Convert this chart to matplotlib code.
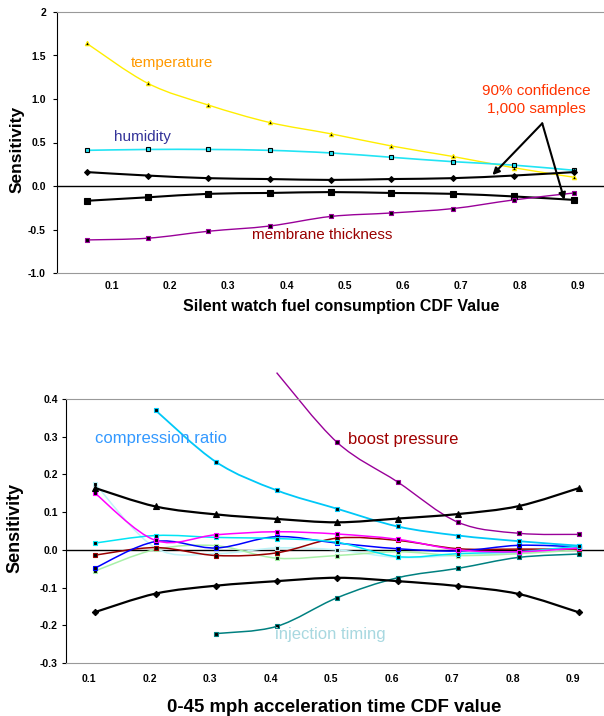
import numpy as np
import matplotlib
matplotlib.use('Agg')
import matplotlib.pyplot as plt
from matplotlib.path import Path
from matplotlib.patches import PathPatch

plt.rcParams['font.family'] = ['Liberation Sans', 'DejaVu Sans']

# ---- top chart: silent watch fuel consumption ----
cdf_top = [0.057, 0.162, 0.266, 0.371, 0.476, 0.58, 0.685, 0.79, 0.894]
temperature = [1.64, 1.18, 0.93, 0.73, 0.60, 0.46, 0.34, 0.21, 0.10]
humidity = [0.41, 0.42, 0.42, 0.41, 0.38, 0.33, 0.28, 0.24, 0.18]
conf_upper_top = [0.16, 0.12, 0.09, 0.08, 0.07, 0.08, 0.09, 0.12, 0.16]
conf_lower_top = [-0.17, -0.13, -0.09, -0.08, -0.07, -0.08, -0.09, -0.12, -0.16]
membrane = [-0.62, -0.60, -0.52, -0.46, -0.35, -0.31, -0.26, -0.16, -0.08]
top_yticks = [2, 1.5, 1.0, 0.5, 0.0, -0.5, -1.0]
top_ylabels = ['2', '1.5', '1.0', '0.5', '0.0', '-0.5', '-1.0']
xticks = [0.1, 0.2, 0.3, 0.4, 0.5, 0.6, 0.7, 0.8, 0.9]

# ---- bottom chart: 0-45 mph acceleration time ----
cdf_bot = [0.11, 0.21, 0.31, 0.41, 0.51, 0.61, 0.71, 0.81, 0.91]
compression = [0.370, 0.233, 0.158, 0.109, 0.062, 0.038, 0.023, 0.011]       # from 0.21
boost = [0.47, 0.285, 0.18, 0.073, 0.044, 0.041]                           # from 0.41
injection = [-0.222, -0.203, -0.127, -0.074, -0.049, -0.020, -0.011]        # from 0.31
conf_upper_bot = [0.164, 0.115, 0.094, 0.082, 0.073, 0.083, 0.095, 0.116, 0.164]
conf_lower_bot = [-0.165, -0.116, -0.095, -0.083, -0.074, -0.083, -0.096, -0.117, -0.166]
magenta_s = [0.150, 0.025, 0.040, 0.048, 0.042, 0.028, 0.000, -0.005, 0.005]
cyan_s = [0.018, 0.038, 0.033, 0.030, 0.020, -0.018, -0.010, -0.005, 0.010]
blue_s = [-0.048, 0.022, 0.005, 0.035, 0.018, 0.003, -0.003, 0.012, 0.008]
darkred_s = [-0.014, 0.006, -0.015, -0.008, 0.031, 0.025, 0.003, 0.002, 0.002]
green_s = [-0.056, 0.001, 0.011, -0.022, -0.015, -0.005, -0.015, -0.010, 0.000]
palecyan_s = [0.175, 0.005, -0.010, 0.005, 0.000, -0.020, -0.015, -0.010, 0.005]
bot_yticks = [0.4, 0.3, 0.2, 0.1, 0.0, -0.1, -0.2, -0.3]


def smooth(ax, x, y, color, lw, clip=True):
    # smoothed line through the points (Catmull-Rom as bezier)
    pts = np.column_stack([x, y]).astype(float)
    n = len(pts)
    verts = [pts[0]]
    codes = [Path.MOVETO]
    for i in range(n - 1):
        p0 = pts[i - 1] if i > 0 else pts[i]
        p1, p2 = pts[i], pts[i + 1]
        p3 = pts[i + 2] if i + 2 < n else pts[i + 1]
        verts += [p1 + (p2 - p0) / 6, p2 - (p3 - p1) / 6, p2]
        codes += [Path.CURVE4] * 3
    ax.add_patch(PathPatch(Path(verts, codes), fill=False, edgecolor=color,
                           lw=lw, clip_on=clip, zorder=2))


def marks(ax, x, y, marker, ms, face, edge):
    ax.plot(x, y, ls='none', marker=marker, ms=ms, mfc=face, mec=edge, mew=0.8, zorder=3)


def style(ax):
    ax.spines['right'].set_visible(False)
    ax.spines['top'].set_color('#999999')
    ax.spines['bottom'].set_color('#999999')
    ax.spines['left'].set_color('black')
    ax.axhline(0, color='black', lw=1, zorder=1)
    ax.tick_params(axis='x', length=0, labelsize=7.5)
    ax.tick_params(axis='y', length=3, labelsize=7.5, direction='out')
    for lab in ax.get_xticklabels() + ax.get_yticklabels():
        lab.set_fontweight('bold')


fig = plt.figure(figsize=(6.04, 7.16), dpi=100)

# ---------------- top ----------------
ax1 = fig.add_axes([57 / 604, 1 - 273 / 716, 547 / 604, 261 / 716])
ax1.set_xlim(0.006, 0.945)
ax1.set_ylim(-1.0, 2.0)
ax1.set_xticks(xticks)
ax1.set_xticklabels([str(v) for v in xticks])
ax1.set_yticks(top_yticks)
ax1.set_yticklabels(top_ylabels)
style(ax1)
ax1.tick_params(axis='x', pad=6)
ax1.tick_params(axis='y', pad=5)

smooth(ax1, cdf_top, temperature, '#FFEE00', 1.0)
marks(ax1, cdf_top, temperature, '^', 3.2, 'black', '#FFEE00')
smooth(ax1, cdf_top, humidity, '#22E4F4', 1.2)
marks(ax1, cdf_top, humidity, 's', 3.2, '#22E4F4', 'black')
smooth(ax1, cdf_top, conf_upper_top, 'black', 1.5)
marks(ax1, cdf_top, conf_upper_top, 'D', 3, 'black', 'black')
smooth(ax1, cdf_top, conf_lower_top, 'black', 1.5)
marks(ax1, cdf_top, conf_lower_top, 's', 4.5, 'black', 'black')
smooth(ax1, cdf_top, membrane, '#990099', 1.0)
marks(ax1, cdf_top, membrane, 's', 3.2, 'black', '#990099')

ax1.text(0.203, 1.41, 'temperature', color='#FF9900', fontsize=11, ha='center', va='center')
ax1.text(0.153, 0.56, 'humidity', color='#333399', fontsize=11, ha='center', va='center')
ax1.text(0.340, -0.56, 'membrane thickness', color='#990000', fontsize=11, ha='left', va='center')
ax1.text(0.829, 0.99, '90% confidence\n1,000 samples', color='#FF3300', fontsize=11,
         ha='center', va='center', multialignment='center', linespacing=1.35)
for tip in [(0.7535, 0.126), (0.877, -0.16)]:
    ax1.annotate('', xy=tip, xytext=(0.839, 0.72),
                 arrowprops=dict(arrowstyle='-|>', color='black', lw=1.5,
                                 shrinkA=0, shrinkB=0, mutation_scale=10))

fig.text(341 / 604, 1 - 307 / 716, 'Silent watch fuel consumption CDF Value',
         fontsize=11.5, fontweight='bold', ha='center', va='center')
fig.text(17 / 604, 1 - 149 / 716, 'Sensitivity', fontsize=12.5, fontweight='bold',
         rotation=90, ha='center', va='center')

# ---------------- bottom ----------------
ax2 = fig.add_axes([66 / 604, 1 - 663 / 716, 538 / 604, 264 / 716])
ax2.set_xlim(0.062, 0.951)
ax2.set_ylim(-0.3, 0.4)
ax2.set_xticks(xticks)
ax2.set_xticklabels([str(v) for v in xticks])
ax2.set_yticks(bot_yticks)
ax2.set_yticklabels(['%.1f' % v for v in bot_yticks])
style(ax2)
ax2.tick_params(axis='x', pad=8)
ax2.tick_params(axis='y', pad=3)

small = [(palecyan_s, '#BFF4F8'), (green_s, '#A8F0A8'), (darkred_s, '#990000'),
         (blue_s, '#0000FF'), (cyan_s, '#00E5F5'), (magenta_s, '#FF00FF')]
for vals, c in small:
    smooth(ax2, cdf_bot, vals, c, 1.1)
    marks(ax2, cdf_bot, vals, 's', 3.5, 'black', c)

smooth(ax2, cdf_bot[1:], compression, '#00C8F8', 1.3)
marks(ax2, cdf_bot[1:], compression, 's', 3.5, 'black', '#00C8F8')
smooth(ax2, cdf_bot[3:], boost, '#990099', 1.0, clip=False)
marks(ax2, cdf_bot[4:], boost[1:], 's', 3.5, 'black', '#990099')
smooth(ax2, cdf_bot[2:], injection, '#008080', 1.1)
marks(ax2, cdf_bot[2:], injection, 's', 3.5, 'black', '#008080')
smooth(ax2, cdf_bot, conf_upper_bot, 'black', 1.6)
marks(ax2, cdf_bot, conf_upper_bot, '^', 5, 'black', 'black')
smooth(ax2, cdf_bot, conf_lower_bot, 'black', 1.6)
marks(ax2, cdf_bot, conf_lower_bot, 'D', 3.2, 'black', 'black')

ax2.text(0.110, 0.296, 'compression ratio', color='#3399FF', fontsize=12, ha='left', va='center')
ax2.text(0.528, 0.293, 'boost pressure', color='#A00000', fontsize=12, ha='left', va='center')
ax2.text(0.407, -0.225, 'injection timing', color='#A8D8E0', fontsize=12, ha='left', va='center')

fig.text(334 / 604, 1 - 707 / 716, '0-45 mph acceleration time CDF value',
         fontsize=13.4, fontweight='bold', ha='center', va='center')
fig.text(15 / 604, 1 - 528 / 716, 'Sensitivity', fontsize=13, fontweight='bold',
         rotation=90, ha='center', va='center')

fig.savefig('out.png', dpi=100)
